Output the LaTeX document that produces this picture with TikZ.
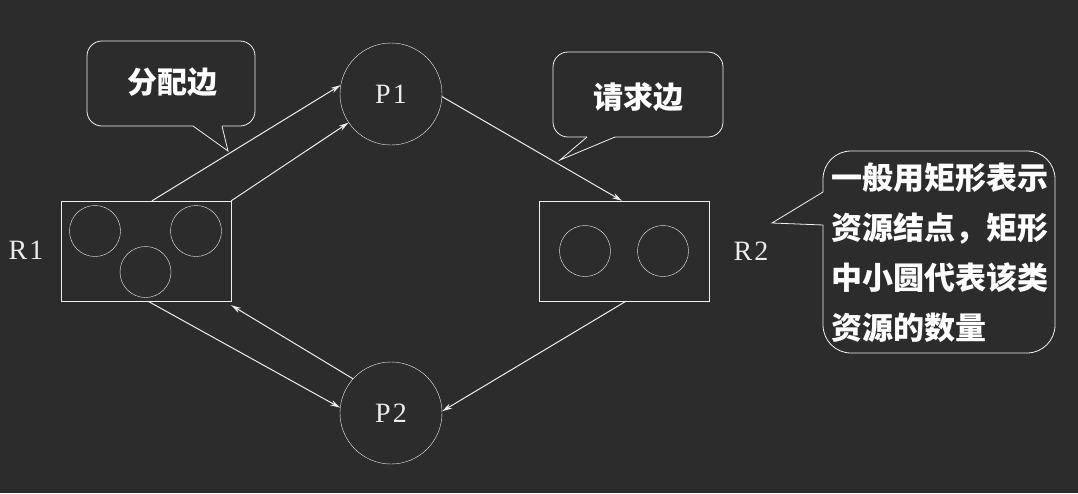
\documentclass[tikz,border=0pt]{standalone}
\usepackage{fontspec}
\usetikzlibrary{arrows.meta}
\newfontfamily\cjk{Noto Sans CJK SC}
\newfontfamily\serif{Liberation Serif}
\definecolor{board}{RGB}{44,44,44}
\definecolor{chalk}{RGB}{236,236,236}

\begin{document}
\begin{tikzpicture}[>={Stealth[length=10pt,width=5.5pt]},x=1pt,y=-1pt,
		proc/.style={draw=chalk!85,circle,minimum size=102pt,inner sep=0pt,text=chalk,font=\serif\fontsize{28}{30}\selectfont},
		res/.style={draw=chalk!85,minimum width=170pt,minimum height=100pt,inner sep=0pt},
		unit/.style={draw=chalk!85,circle,minimum size=51pt,inner sep=0pt},
		lbl/.style={text=chalk,font=\serif\fontsize{28}{30}\selectfont},
		note/.style={text=white,font=\cjk\bfseries\fontsize{30}{50}\selectfont},
		bubble/.style={draw=chalk!75,line width=0.8pt},
		edge/.style={->,chalk,line width=1pt}]
		\fill[board] (0,0) rectangle (1078,493);

		% processes and resources
		\node[proc] (p1) at (391,94) {P\kern2pt1};
		\node[proc] (p2) at (391,413) {P\kern2pt2};
		\node[res] (r1) at (146,251) {};
		\node[res] (r2) at (624,251) {};
		\node[lbl] (r1lbl) at (26,250) {R\kern2pt1};
		\node[lbl] (r2lbl) at (751,251) {R\kern2pt2};

		\node[unit] (r1a) at (95,231) {};
		\node[unit] (r1b) at (196,231) {};
		\node[unit] (r1c) at (145.5,272) {};
		\node[unit] (r2a) at (585,251) {};
		\node[unit] (r2b) at (663,251) {};

		% edges
		\draw[edge] ([xshift=6pt]r1.north) -- (p1.170);
		\draw[edge] (r1.north east) -- (p1.214);
		\draw[edge] (p1.-3) -- ([xshift=-2pt]r2.north);
		\draw[edge] ([xshift=2pt]r2.south) -- (p2.2);
		\draw[edge] ([xshift=2pt]r1.south) -- (p2.174);
		\draw[edge] (p2.138) -- ([yshift=-4pt]r1.south east);

		% callouts
		\draw[bubble,rounded corners=15pt] (222,126) -- (255,126) -- (255,41) -- (87,41) -- (87,126) -- (193,126);
		\draw[bubble] (193,126) -- (228,151) -- (222,126);
		\node[note] (alloc) at (172,82) {分配边};

		\draw[bubble,rounded corners=15pt] (615,137) -- (723,137) -- (723,52) -- (553,52) -- (553,137) -- (587,137);
		\draw[bubble] (587,137) -- (560,160) -- (615,137);
		\node[note] (req) at (638,97) {请求边};

		\draw[bubble,rounded corners=28pt] (823,192) -- (823,151) -- (1055,151) -- (1055,353) -- (823,353) -- (823,225);
		\draw[bubble] (823,225) -- (772,223) -- (823,192);
		\node[note,font=\cjk\bfseries\fontsize{31}{50}\selectfont,align=left,anchor=west,inner sep=0pt] (info) at (831,253)
			{一般用矩形表示\\资源结点，矩形\\中小圆代表该类\\资源的数量};

	\end{tikzpicture}
\end{document}
